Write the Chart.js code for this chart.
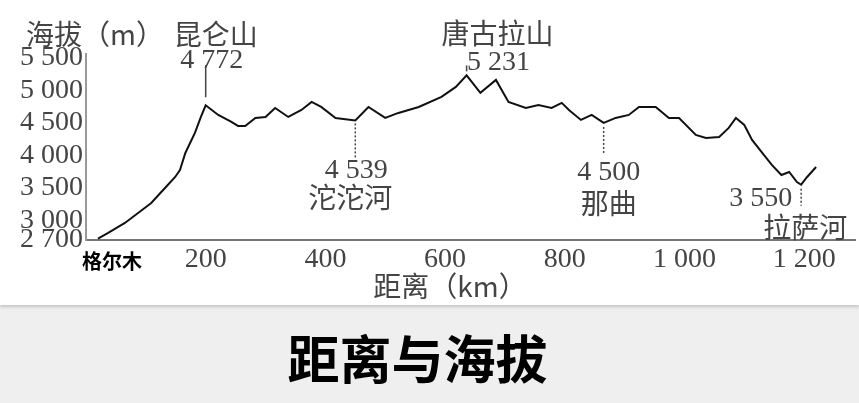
<!DOCTYPE html>
<html>
<head>
<meta charset="utf-8">
<script src="https://cdn.jsdelivr.net/npm/chart.js@4/dist/chart.umd.min.js"></script>
<style>
	body { margin: 0; width: 859px; height: 403px; overflow: hidden; background: #efefef; }
	#top { width: 859px; height: 305px; background: #fff; box-shadow: 0 2px 3px rgba(0,0,0,0.18); position: relative; }
	#caption { height: 98px; line-height: 98px; text-align: center; padding-right: 24px; position: relative; top: 14px;
		font: bold 52px "Noto Sans CJK SC", sans-serif; color: #000; }
</style>
</head>
<body>
<div id="top"><canvas id="profile" width="859" height="305"></canvas></div>
<div id="caption">距离与海拔</div>
<script>
// distance along the line (km) and altitude (m)
const distanceKm = [20, 37, 65, 87, 109, 132, 149, 157, 166, 182, 192, 200, 221, 243, 254, 266, 283, 300, 316, 338,
	360, 377, 393, 417, 450, 472, 500, 522, 556, 594, 618, 636, 659, 685, 706, 735, 756, 778, 795, 807,
	827, 845, 865, 885, 907, 924, 952, 974, 991, 1019, 1036, 1058, 1074, 1086, 1100, 1113, 1130, 1146, 1162, 1175,
	1188, 1195, 1205, 1220];
const elevationM = [2720, 2808, 2962, 3115, 3269, 3500, 3669, 3777, 4038, 4346, 4592, 4772, 4623, 4515, 4454, 4454, 4577, 4592, 4731, 4592,
	4700, 4823, 4746, 4577, 4539, 4746, 4577, 4654, 4746, 4900, 5054, 5231, 4962, 5162, 4823, 4731, 4777, 4731, 4808, 4700,
	4546, 4623, 4500, 4577, 4623, 4746, 4746, 4577, 4577, 4315, 4269, 4285, 4423, 4577, 4469, 4238, 4038, 3854, 3700, 3746,
	3592, 3550, 3669, 3823];

const xTicks = [200, 400, 600, 800, 1000, 1200];
const yTicks = [2700, 3000, 3500, 4000, 4500, 5000, 5500];

const startName = '格尔木';
const peakNames = ['昆仑山', '唐古拉山'];
const peakKm = [200, 636];
const peakElev = [4772, 5231];
const riverNames = ['沱沱河', '那曲', '拉萨河'];
const riverKm = [450, 865, 1195];
const riverElev = [4539, 4500, 3550];

const numFont = '28px "Liberation Serif", serif';
const cjkFont = '28px "Noto Sans CJK SC", sans-serif';
const inkColor = '#444';

function spaced(v) {
	return String(v).replace(/\B(?=(\d{3})+$)/, ' ');
}

// text and leader lines around the profile
const labelsPlugin = {
	id: 'profileLabels',
	afterDraw(chart) {
		const ctx = chart.ctx;
		const xs = chart.scales.x;
		const ys = chart.scales.y;
		ctx.save();
		ctx.fillStyle = inkColor;
		ctx.strokeStyle = inkColor;
		ctx.textBaseline = 'middle';

		ctx.font = cjkFont;
		ctx.textAlign = 'left';
		ctx.fillText('海拔（m）', 26, 34);
		ctx.textAlign = 'center';
		ctx.fillText('距离（km）', 450, 286);

		ctx.font = 'bold 20px "Noto Sans CJK SC", sans-serif';
		ctx.fillStyle = '#000';
		ctx.fillText(startName, xs.getPixelForValue(0) + 26, 261);
		ctx.fillStyle = inkColor;

		// peaks: leader goes up
		const peakStyle = [
			{ from: 8, to: 40, dx: 6, valueDy: 45, nameDx: 10, nameDy: 71 },
			{ from: 4, to: 10, dx: 32, valueDy: 13, nameDx: 31, nameDy: 42 }
		];
		peakNames.forEach((name, i) => {
			const px = xs.getPixelForValue(peakKm[i]);
			const py = ys.getPixelForValue(peakElev[i]);
			const s = peakStyle[i];
			ctx.lineWidth = 1.5;
			ctx.setLineDash([]);
			ctx.beginPath();
			ctx.moveTo(px, py - s.from);
			ctx.lineTo(px, py - s.to);
			ctx.stroke();
			ctx.textAlign = 'center';
			ctx.font = numFont;
			ctx.fillText(spaced(peakElev[i]), px + s.dx, py - s.valueDy);
			ctx.font = cjkFont;
			ctx.fillText(name, px + s.nameDx, py - s.nameDy);
		});

		// rivers: leader goes down
		const riverStyle = [
			{ from: 3, to: 37, dx: 1, align: 'center', valueDy: 50, nameDx: -5, nameDy: 77 },
			{ from: 4, to: 30, dx: 5, align: 'center', valueDy: 50, nameDx: 5, nameDy: 80 },
			{ from: 4, to: 21, dx: -9, align: 'right', valueDy: 14, nameDx: 4, nameDy: 43 }
		];
		riverNames.forEach((name, i) => {
			const px = xs.getPixelForValue(riverKm[i]);
			const py = ys.getPixelForValue(riverElev[i]);
			const s = riverStyle[i];
			ctx.lineWidth = 1.5;
			ctx.setLineDash([2, 2]);
			ctx.beginPath();
			ctx.moveTo(px, py + s.from);
			ctx.lineTo(px, py + s.to);
			ctx.stroke();
			ctx.textAlign = s.align;
			ctx.font = numFont;
			ctx.fillText(spaced(riverElev[i]), px + s.dx, py + s.valueDy);
			ctx.textAlign = 'center';
			ctx.font = cjkFont;
			ctx.fillText(name, px + s.nameDx, py + s.nameDy);
		});
		ctx.restore();
	}
};

const ctx = document.getElementById('profile');
const profileChart = new Chart(ctx, {
	type: 'line',
	data: {
		datasets: [{
			data: distanceKm.map((km, i) => ({ x: km, y: elevationM[i] })),
			borderColor: '#111',
			borderWidth: 2,
			pointRadius: 0,
			tension: 0,
			fill: false
		}]
	},
	options: {
		responsive: false,
		animation: false,
		layout: { padding: { top: 54, right: 4, left: 0, bottom: 0 } },
		plugins: {
			legend: { display: false },
			tooltip: { enabled: false }
		},
		scales: {
			x: {
				type: 'linear',
				min: 0,
				max: 1285,
				afterBuildTicks: (scale) => { scale.ticks = xTicks.map(v => ({ value: v })); },
				afterFit: (scale) => { scale.height = 65; },
				grid: { display: false, drawTicks: false },
				border: { display: true, color: '#777', width: 2 },
				ticks: {
					autoSkip: false,
					maxRotation: 0,
					padding: 3,
					color: inkColor,
					font: { family: '"Liberation Serif", serif', size: 28 },
					callback: (v) => spaced(v)
				}
			},
			y: {
				min: 2700,
				max: 5560,
				afterBuildTicks: (scale) => { scale.ticks = yTicks.map(v => ({ value: v })); },
				afterFit: (scale) => { scale.width = 86; },
				grid: { display: false, drawTicks: false },
				border: { display: true, color: '#999', width: 2, dash: [2, 1] },
				ticks: {
					autoSkip: false,
					padding: 3,
					color: inkColor,
					font: { family: '"Liberation Serif", serif', size: 28 },
					callback: (v) => spaced(v)
				}
			}
		}
	},
	plugins: [labelsPlugin]
});
</script>
</body>
</html>
